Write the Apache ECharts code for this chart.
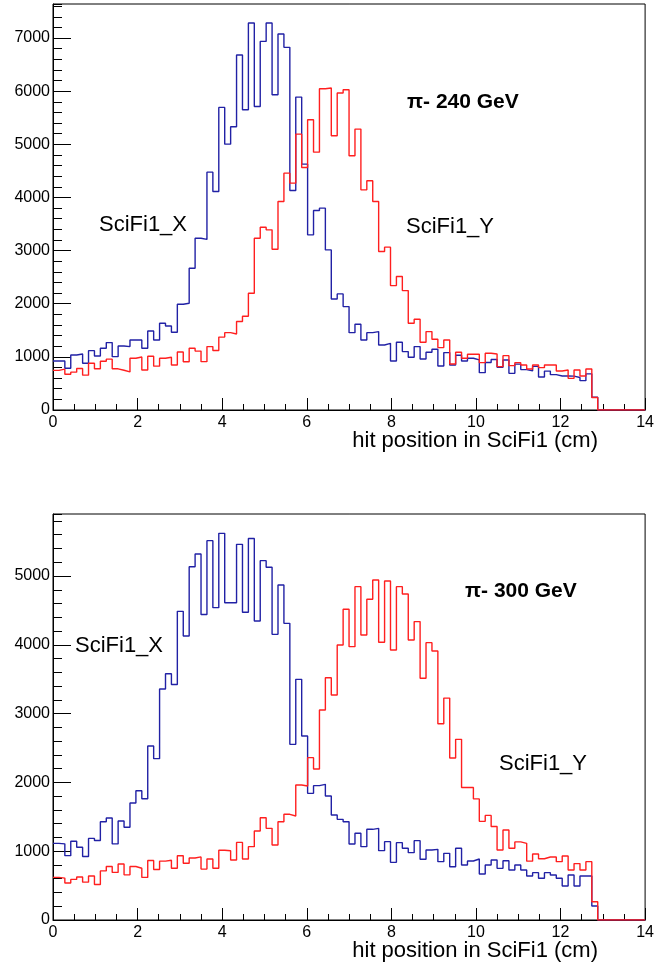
<!DOCTYPE html>
<html><head><meta charset="utf-8">
<script src="https://cdn.jsdelivr.net/npm/echarts@6/dist/echarts.min.js"></script>
<style>html,body{margin:0;padding:0;background:#fff}#c{width:657px;height:971px}</style>
</head><body><div id="c"></div>
<script>
// histogram: 100 bins of 0.14 cm from 0 to 14 cm
const binWidth = 0.14;
const xTickLabels = [0, 2, 4, 6, 8, 10, 12, 14];
const yTickLabelsTop = [0, 1000, 2000, 3000, 4000, 5000, 6000, 7000];
const yTickLabelsBottom = [0, 1000, 2000, 3000, 4000, 5000];
const xTitle = 'hit position in SciFi1 (cm)';

// pi- 240 GeV
const top_SciFi1_X = [
 923, 923, 785, 1036, 1055, 879, 1117, 1017, 1161, 1268,
 1004, 1205, 1193, 1318, 1318, 1161, 1488, 1318, 1632, 1582,
 1463, 1990, 2009, 2668, 3233, 3210, 4476, 4112, 5694, 5003,
 5330, 6679, 5650, 7282, 5712, 6936, 7282, 5932, 7075, 6824,
 4131, 5888, 4627, 3296, 3754, 3798, 3013, 2090, 2185, 1946,
 1456, 1613, 1318, 1456, 1475, 1224, 1255, 923, 1274, 1099,
 992, 1193, 960, 1086, 1143, 829, 1080, 847, 1030, 923,
 973, 942, 703, 895, 950, 803, 942, 690, 863, 760,
 735, 820, 622, 732, 665, 640, 643, 637, 612, 552,
 680, 240, 0, 0, 0, 0, 0, 0, 0, 0];
const top_SciFi1_Y = [
 745, 768, 672, 712, 782, 656, 879, 775, 917, 957,
 775, 748, 716, 973, 998, 754, 1011, 825, 973, 992,
 848, 1092, 907, 1162, 1108, 910, 1193, 1121, 1372, 1456,
 1431, 1664, 1765, 2197, 3233, 3440, 3390, 3026, 3923, 4457,
 4269, 5191, 4564, 5461, 4852, 6045, 6058, 5160, 5964, 6026,
 4783, 5286, 4143, 4313, 3923, 2982, 3064, 2341, 2511, 2247,
 1632, 1707, 1274, 1475, 1331, 1174, 1318, 866, 1086, 973,
 1048, 1048, 891, 1067, 1055, 816, 1023, 835, 891, 847,
 772, 847, 797, 847, 847, 734, 753, 596, 753, 640,
 772, 235, 0, 0, 0, 0, 0, 0, 0, 0];

// pi- 300 GeV
const bottom_SciFi1_X = [
 1114, 1107, 935, 1145, 1057, 924, 1186, 1155, 1428, 1483,
 1106, 1440, 1348, 1700, 1878, 1762, 2529, 2345, 3357, 3580,
 3422, 4486, 4127, 5134, 5320, 4440, 5514, 4540, 5620, 4612,
 4612, 5460, 4472, 5545, 4346, 5223, 5126, 4152, 4869, 4312,
 2553, 3498, 2674, 1841, 1953, 1972, 1802, 1526, 1463, 1429,
 1105, 1260, 1066, 1318, 1332, 1008, 1139, 838, 1124, 1042,
 979, 1153, 882, 1017, 1027, 848, 969, 775, 1042, 799,
 858, 887, 669, 799, 872, 751, 862, 727, 799, 727,
 640, 688, 606, 688, 654, 606, 494, 654, 494, 640,
 640, 203, 0, 0, 0, 0, 0, 0, 0, 0];
const bottom_SciFi1_Y = [
 619, 609, 537, 590, 624, 550, 640, 515, 714, 777,
 692, 813, 656, 777, 752, 619, 864, 733, 855, 868,
 752, 934, 825, 902, 917, 740, 886, 752, 1014, 1007,
 873, 1128, 887, 1066, 1294, 1487, 1332, 1090, 1429, 1536,
 1512, 1962, 1948, 2360, 2195, 3052, 3522, 3270, 3997, 4516,
 3973, 4845, 4142, 4661, 4942, 4036, 4927, 3924, 4845, 4738,
 4070, 4337, 3513, 4031, 3910, 2852, 3225, 2355, 2626, 1925,
 1925, 1760, 1434, 1520, 1360, 1017, 1308, 1042, 1135, 1114,
 855, 960, 890, 915, 915, 848, 930, 727, 820, 727,
 848, 266, 0, 0, 0, 0, 0, 0, 0, 0];

const BLUE = '#2121a5';
const RED = '#ff1f1f';
const FONT = '"Liberation Sans", Arial, Helvetica, sans-serif';

function stepPoints(vals) {
  const pts = [];
  vals.forEach((v, i) => {
    pts.push([+(i * binWidth).toFixed(4), v]);
    pts.push([+((i + 1) * binWidth).toFixed(4), v]);
  });
  return pts;
}

const grids = [
  {left: 53, top: 4, width: 596, height: 406, ymax: 7640, yLabels: yTickLabelsTop},
  {left: 53, top: 514, width: 596, height: 406, ymax: 5901, yLabels: yTickLabelsBottom}
];

const option = {
  animation: false,
  backgroundColor: '#fff',
  grid: grids.map(g => ({left: g.left, top: g.top, width: g.width, height: g.height,
    show: true, borderColor: '#000', borderWidth: 1, containLabel: false})),
  xAxis: grids.map((g, i) => ({
    gridIndex: i, type: 'value', min: 0, max: 14, interval: 2,
    axisLine: {show: true, onZero: false, lineStyle: {color: '#000', width: 1}},
    axisTick: {show: true, inside: true, length: 12, lineStyle: {color: '#000'}},
    minorTick: {show: true, splitNumber: 4, length: 6, lineStyle: {color: '#000'}},
    axisLabel: {show: true, color: '#000', fontSize: 16, fontFamily: FONT, margin: 5,
      formatter: v => xTickLabels.includes(v) ? String(v) : ''},
    splitLine: {show: false}, minorSplitLine: {show: false}
  })),
  yAxis: [].concat(...grids.map((g, i) => [
    {gridIndex: i, type: 'value', position: 'left', min: 0, max: g.ymax, interval: 1000,
     axisLine: {show: true, onZero: false, lineStyle: {color: '#000', width: 1}},
     axisTick: {show: true, inside: true, length: 18, lineStyle: {color: '#000'}},
     axisLabel: {show: true, color: '#000', fontSize: 16, fontFamily: FONT, margin: 3,
       showMaxLabel: false,
       formatter: v => g.yLabels.includes(v) ? String(v) : ''},
     splitLine: {show: false}},
    {gridIndex: i, type: 'value', position: 'left', min: 0, max: g.ymax, interval: 200,
     axisLine: {show: false},
     axisTick: {show: true, inside: true, length: 9, lineStyle: {color: '#000'}},
     axisLabel: {show: false}, splitLine: {show: false}}
  ])),
  series: [
    {name: 'SciFi1_X', type: 'line', xAxisIndex: 0, yAxisIndex: 0, data: stepPoints(top_SciFi1_X),
     showSymbol: false, symbol: 'none', lineStyle: {color: BLUE, width: 1.4}, itemStyle: {color: BLUE}},
    {name: 'SciFi1_Y', type: 'line', xAxisIndex: 0, yAxisIndex: 0, data: stepPoints(top_SciFi1_Y),
     showSymbol: false, symbol: 'none', lineStyle: {color: RED, width: 1.4}, itemStyle: {color: RED}},
    {name: 'SciFi1_X', type: 'line', xAxisIndex: 1, yAxisIndex: 2, data: stepPoints(bottom_SciFi1_X),
     showSymbol: false, symbol: 'none', lineStyle: {color: BLUE, width: 1.4}, itemStyle: {color: BLUE}},
    {name: 'SciFi1_Y', type: 'line', xAxisIndex: 1, yAxisIndex: 2, data: stepPoints(bottom_SciFi1_Y),
     showSymbol: false, symbol: 'none', lineStyle: {color: RED, width: 1.4}, itemStyle: {color: RED}}
  ],
  graphic: [
    {type: 'text', x: 598, y: 441, style: {text: xTitle, font: '22px ' + FONT, fill: '#000', textAlign: 'right', textVerticalAlign: 'middle'}},
    {type: 'text', x: 598, y: 951, style: {text: xTitle, font: '22px ' + FONT, fill: '#000', textAlign: 'right', textVerticalAlign: 'middle'}},
    {type: 'text', x: 99, y: 225, style: {text: 'SciFi1_X', font: '22px ' + FONT, fill: '#000', textAlign: 'left', textVerticalAlign: 'middle'}},
    {type: 'text', x: 406, y: 227, style: {text: 'SciFi1_Y', font: '22px ' + FONT, fill: '#000', textAlign: 'left', textVerticalAlign: 'middle'}},
    {type: 'text', x: 407, y: 102, style: {text: 'π- 240 GeV', font: 'bold 21px ' + FONT, fill: '#000', textAlign: 'left', textVerticalAlign: 'middle'}},
    {type: 'text', x: 75, y: 646, style: {text: 'SciFi1_X', font: '22px ' + FONT, fill: '#000', textAlign: 'left', textVerticalAlign: 'middle'}},
    {type: 'text', x: 499, y: 764, style: {text: 'SciFi1_Y', font: '22px ' + FONT, fill: '#000', textAlign: 'left', textVerticalAlign: 'middle'}},
    {type: 'text', x: 465, y: 591, style: {text: 'π- 300 GeV', font: 'bold 21px ' + FONT, fill: '#000', textAlign: 'left', textVerticalAlign: 'middle'}}
  ]
};

const chart = echarts.init(document.getElementById('c'), null, {renderer: 'canvas', width: 657, height: 971});
chart.setOption(option);
</script>
</body></html>
